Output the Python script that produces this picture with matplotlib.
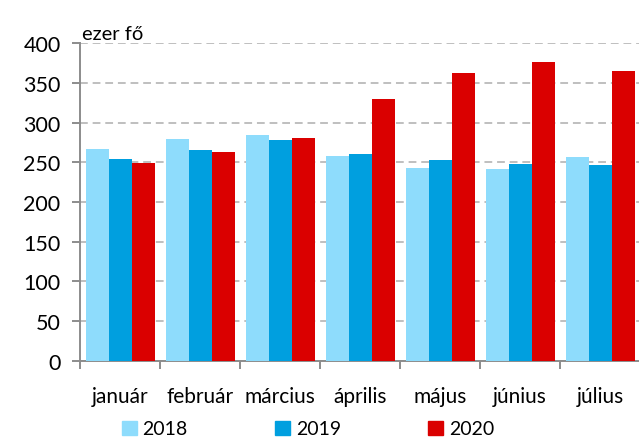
import matplotlib
matplotlib.use("Agg")
import matplotlib.pyplot as plt
import matplotlib.patches as mpatches
import numpy as np

# monthly figures, thousand persons
months = ["január", "február", "március", "április", "május", "június", "július"]
years = ["2018", "2019", "2020"]
v2018 = [267, 279, 285, 258, 243, 241, 257]
v2019 = [254, 265, 278, 261, 253, 248, 247]
v2020 = [249, 263, 281, 330, 363, 376, 365]
colors = ["#8EDCFC", "#009FDF", "#DA0000"]

plt.rcParams["font.family"] = ["Lato", "DejaVu Sans"]

fig = plt.figure(figsize=(6.39, 4.39), dpi=100)
ax = fig.add_axes([80 / 639, 1 - 361.7 / 439, 560 / 639, (361.7 - 44.3) / 439])

x = np.arange(len(months))
w = 0.2875
for i, (vals, c) in enumerate(zip([v2018, v2019, v2020], colors)):
    ax.bar(x + (i - 1) * w, vals, w, color=c, zorder=3)

ax.set_xlim(-0.5, len(months) - 0.5)
ax.set_ylim(0, 400)
ax.set_yticks(np.arange(0, 401, 50))
ax.yaxis.grid(True, linestyle=(0, (4, 2.5)), color="#BFBFBF", linewidth=1.4, zorder=0)

# month names centred, tick marks between the groups
ax.set_xticks(x)
ax.set_xticklabels(months)
ax.set_xticks(np.arange(-0.5, len(months)), minor=True)
ax.tick_params(axis="x", which="major", length=0, pad=18, labelsize=15)
ax.tick_params(axis="x", which="minor", length=6, width=1.4, color="#8C8C8C", direction="out")
ax.tick_params(axis="y", length=6, width=1.4, color="#8C8C8C", labelsize=15.5, pad=8)

for side in ["top", "right"]:
    ax.spines[side].set_visible(False)
for side in ["left", "bottom"]:
    ax.spines[side].set_color("#8C8C8C")
    ax.spines[side].set_linewidth(1.4)

ax.text(0.003, 1.005, "ezer fő", transform=ax.transAxes, fontsize=14.5, va="bottom", ha="left")

handles = [mpatches.Patch(color=c, label=y) for c, y in zip(colors, years)]
fig.legend(handles=handles, loc="center", bbox_to_anchor=(308 / 639, 1 - 430 / 439),
           ncol=3, frameon=False, fontsize=14, handlelength=0.75, handleheight=0.75,
           handletextpad=0.3, columnspacing=4.5)

fig.savefig("out.png", dpi=100)
